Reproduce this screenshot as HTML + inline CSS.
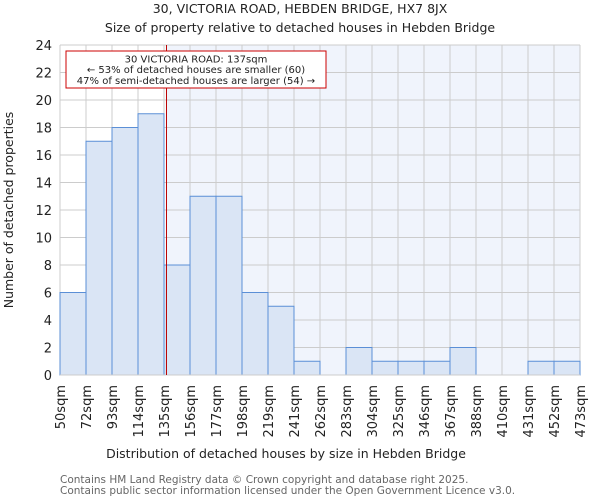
<!DOCTYPE html>
<html><head><meta charset="utf-8"><style>body{margin:0;background:#fff}svg{display:block;font-family:"DejaVu Sans","Liberation Sans",sans-serif}</style></head>
<body>
<svg id="c" width="600" height="500" xmlns="http://www.w3.org/2000/svg">
<text x="300" y="13" text-anchor="middle" font-size="12.5" fill="#222">30, VICTORIA ROAD, HEBDEN BRIDGE, HX7 8JX</text>
<text x="300" y="32" text-anchor="middle" font-size="12.5" fill="#222">Size of property relative to detached houses in Hebden Bridge</text>
<g id="plot"></g>
<text x="286" y="458" text-anchor="middle" font-size="12.5" fill="#222">Distribution of detached houses by size in Hebden Bridge</text>
<text transform="translate(13,210) rotate(-90)" text-anchor="middle" font-size="12.5" fill="#222">Number of detached properties</text>
<text x="60" y="483" font-size="10.5" fill="#666">Contains HM Land Registry data © Crown copyright and database right 2025.</text>
<text x="60" y="494" font-size="10.5" fill="#666">Contains public sector information licensed under the Open Government Licence v3.0.</text>
</svg>
<script>
const binLabels=["50sqm","72sqm","93sqm","114sqm","135sqm","156sqm","177sqm","198sqm","219sqm","241sqm","262sqm","283sqm","304sqm","325sqm","346sqm","367sqm","388sqm","410sqm","431sqm","452sqm","473sqm"];
const binEdges=[50,72,93,114,135,156,177,198,219,241,262,283,304,325,346,367,388,410,431,452,473];
const counts=[6,17,18,19,8,13,13,6,5,1,0,2,1,1,1,2,0,0,1,1];
const yTicks=[0,2,4,6,8,10,12,14,16,18,20,22,24];
const propertySize=137;
const NS="http://www.w3.org/2000/svg";
const L=60,R=580,T=45,B=375,yMax=24;
const nb=counts.length,bw=(R-L)/nb;
const y=v=>B-(v/yMax)*(B-T);
const xi=i=>L+i*bw;
function xv(v){for(let i=0;i<binEdges.length-1;i++){if(v<=binEdges[i+1])return xi(i)+(v-binEdges[i])/(binEdges[i+1]-binEdges[i])*bw;}return R;}
const g=document.getElementById('plot');
function mk(t,a){const e=document.createElementNS(NS,t);for(const k in a)e.setAttribute(k,a[k]);g.appendChild(e);return e;}
const px=xv(propertySize);
let e=mk('rect',{x:L,y:T,width:R-L,height:B-T,fill:'#fff'});


e=mk('rect',{x:px,y:T,width:R-px,height:B-T,fill:'#f0f4fc'});


yTicks.forEach(t=>{
 e=mk('line',{x1:L,x2:R,y1:y(t),y2:y(t),stroke:'#ccc','stroke-width':1});
 
 
 e=mk('text',{x:L-8,y:y(t)+5,'text-anchor':'end','font-size':13,fill:'#222'});e.textContent=t;
 
 
});
binLabels.forEach((lb,i)=>{
 e=mk('line',{x1:xi(i),x2:xi(i),y1:T,y2:B,stroke:'#ccc','stroke-width':1});
 
 
 e=mk('text',{transform:`translate(${xi(i)+5},${B+10}) rotate(-90)`,'text-anchor':'end','font-size':13,fill:'#222'});e.textContent=lb;
 
 
});
counts.forEach((c,i)=>{
 if(c<=0)return;
 e=mk('rect',{x:xi(i),y:y(c),width:bw,height:B-y(c),fill:'#dae5f5',stroke:'#5b8fd6','stroke-width':1});
 
 
});
e=mk('line',{x1:L,x2:R,y1:B,y2:B,stroke:'#ccc','stroke-width':1});


e=mk('line',{x1:px,x2:px,y1:T,y2:B,stroke:'#b00','stroke-width':1});


e=mk('rect',{x:66,y:51,width:260,height:37,fill:'#fff',stroke:'#c00','stroke-width':1});


const lines=["30 VICTORIA ROAD: "+propertySize+"sqm","← 53% of detached houses are smaller (60)","47% of semi-detached houses are larger (54) →"];
lines.forEach((s,k)=>{
 e=mk('text',{x:196,y:62.5+k*10.7,'text-anchor':'middle','font-size':10,fill:'#222'});e.textContent=s;
 
 
});
</script>
</body></html>
